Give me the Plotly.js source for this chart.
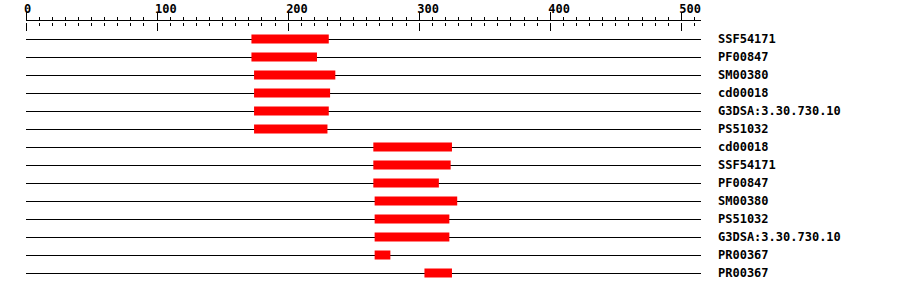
<!DOCTYPE html>
<html>
<head>
<meta charset="utf-8">
<script src="https://cdn.plot.ly/plotly-3.0.1.min.js"></script>
<style>
html,body{margin:0;padding:0;background:#fff;}
#chart{width:900px;height:292px;}
</style>
</head>
<body>
<div id="chart"></div>
<script>
// Feature labels (one per row, top to bottom)
const labels = ["SSF54171","PF00847","SM00380","cd00018","G3DSA:3.30.730.10","PS51032",
                "cd00018","SSF54171","PF00847","SM00380","PS51032","G3DSA:3.30.730.10",
                "PR00367","PR00367"];
// Feature start / end positions (residues)
const starts = [172,172,174,174,174,174,265,265,265,266,266,266,266,304];
const ends   = [231,222,236,232,231,230,325,324,315,329,323,323,278,325];
// Sequence length
const seqLength = 515;

const rows = labels.map((_, i) => i);
const lengths = ends.map((e, i) => e - starts[i]);

const font = {family: "DejaVu Sans Mono, Liberation Mono, monospace", size: 12, color: "#000", weight: "bold"};

const bars = {
  type: "bar",
  orientation: "h",
  y: rows,
  x: lengths,
  base: starts,
  width: 0.5,
  marker: {color: "#ff0000", line: {width: 0}},
  hoverinfo: "skip",
  showlegend: false
};
// invisible trace to activate a second x axis that carries the downward ticks
const dummy = {
  type: "scatter", mode: "markers", x: [0], y: [0], xaxis: "x2", yaxis: "y2",
  marker: {opacity: 0}, hoverinfo: "skip", showlegend: false
};

const layout = {
  width: 900, height: 292,
  margin: {l: 26, r: 199, t: 21, b: 10},
  paper_bgcolor: "#fff", plot_bgcolor: "rgba(0,0,0,0)",
  font: font,
  showlegend: false,
  hovermode: false,
  xaxis: {
    side: "top",
    range: [0, seqLength],
    showgrid: false, zeroline: false,
    showline: true, linecolor: "#000", linewidth: 1,
    tick0: 0, dtick: 100,
    ticks: "outside", ticklen: 8, tickwidth: 1, tickcolor: "#000",
    minor: {dtick: 10, ticks: "outside", ticklen: 3, tickwidth: 1, tickcolor: "#000"},
    ticklabelposition: "outside right",
    ticklabelshift: -3,
    ticklabelstandoff: 2,
    tickfont: font,
    fixedrange: true
  },
  xaxis2: {
    anchor: "y2", side: "bottom",
    range: [0, seqLength],
    showgrid: false, zeroline: false, showline: false,
    tick0: 0, dtick: 100,
    ticks: "outside", ticklen: 8, tickwidth: 1, tickcolor: "#000",
    minor: {dtick: 10, ticks: "outside", ticklen: 3, tickwidth: 1, tickcolor: "#000"},
    showticklabels: false,
    fixedrange: true
  },
  yaxis2: {
    domain: [0.998, 1],
    anchor: "x2",
    visible: false,
    fixedrange: true
  },
  yaxis: {
    domain: [0, 1],
    range: [13.5, -1],
    side: "right",
    tickmode: "array", tickvals: rows, ticktext: labels,
    showgrid: true, gridcolor: "#000", gridwidth: 1,
    zeroline: false, showline: false,
    ticks: "", ticklabelstandoff: 16,
    tickfont: font,
    fixedrange: true
  }
};

Plotly.newPlot("chart", [bars, dummy], layout, {displayModeBar: false, staticPlot: true});
</script>
</body>
</html>
